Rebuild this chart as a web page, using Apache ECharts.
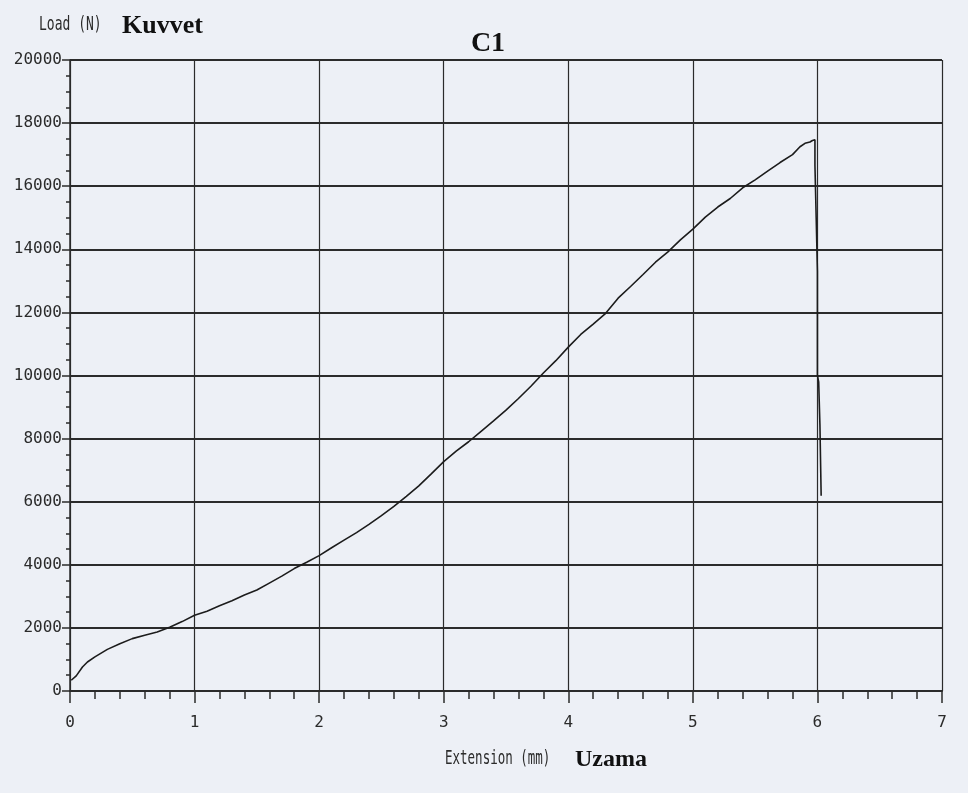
<!DOCTYPE html>
<html>
<head>
<meta charset="utf-8">
<title>C1 - Load vs Extension</title>
<script src="https://cdn.jsdelivr.net/npm/echarts@6/dist/echarts.min.js"></script>
<style>
  html, body { margin: 0; padding: 0; background: #edf0f6; }
  #chart { width: 968px; height: 793px; }
</style>
</head>
<body>
<div id="chart"></div>
<script>
// Tensile test record of specimen C1: extension (mm) against load (N)
const extension = [
  0.01, 0.05, 0.10, 0.14, 0.20, 0.30, 0.40, 0.50, 0.60, 0.70, 0.80, 0.90,
  1.00, 1.10, 1.20, 1.30, 1.40, 1.50, 1.60, 1.70, 1.80, 1.90,
  2.00, 2.10, 2.20, 2.30, 2.40, 2.50, 2.60, 2.70, 2.80, 2.90,
  3.00, 3.10, 3.20, 3.30, 3.40, 3.50, 3.60, 3.70, 3.80, 3.90,
  4.00, 4.10, 4.20, 4.30, 4.40, 4.50, 4.60, 4.70, 4.80, 4.90,
  5.00, 5.10, 5.20, 5.30, 5.40, 5.50, 5.60, 5.70, 5.80, 5.86, 5.90, 5.94, 5.96, 5.98,
  5.98, 5.99, 6.00, 6.00, 6.01, 6.02, 6.03
];
const load = [
  340, 480, 760, 920, 1080, 1320, 1500, 1660, 1770, 1870, 2020, 2200,
  2400, 2530, 2700, 2860, 3040, 3200, 3420, 3640, 3880, 4080,
  4290, 4540, 4780, 5020, 5280, 5560, 5850, 6170, 6500, 6880,
  7270, 7600, 7900, 8230, 8560, 8900, 9270, 9660, 10080, 10470,
  10900, 11300, 11630, 11970, 12450, 12820, 13200, 13590, 13920, 14300,
  14640, 15020, 15340, 15610, 15950, 16200, 16480, 16750, 17000, 17250, 17360, 17400, 17450, 17470,
  16670, 15000, 13300, 10000, 9800, 8450, 6190
];
const xTicks = [0, 1, 2, 3, 4, 5, 6, 7];
const yTicks = [0, 2000, 4000, 6000, 8000, 10000, 12000, 14000, 16000, 18000, 20000];

const ink = '#2b2b2b';
const monoFont = "'DejaVu Sans Mono', monospace";
const serifFont = "'Liberation Serif', 'Times New Roman', serif";

const chart = echarts.init(document.getElementById('chart'), null, { renderer: 'canvas' });

chart.setOption({
  backgroundColor: '#edf0f6',
  animation: false,
  grid: { left: 70, right: 26, top: 60, bottom: 102, containLabel: false },
  xAxis: {
    type: 'value',
    min: xTicks[0],
    max: xTicks[xTicks.length - 1],
    interval: 1,
    axisLine: { show: true, onZero: false, lineStyle: { color: ink, width: 2 } },
    axisTick: { show: true, inside: false, length: 12, lineStyle: { color: ink, width: 1.5 } },
    minorTick: { show: true, splitNumber: 5, length: 8, lineStyle: { color: ink, width: 1.5 } },
    splitLine: { show: true, lineStyle: { color: ink, width: 1.2 } },
    axisLabel: {
      margin: 24, color: ink, fontFamily: monoFont, fontSize: 16,
      formatter: v => String(v)
    }
  },
  yAxis: {
    type: 'value',
    min: yTicks[0],
    max: yTicks[yTicks.length - 1],
    interval: 2000,
    axisLine: { show: true, onZero: false, lineStyle: { color: ink, width: 1.5 } },
    axisTick: { show: true, inside: false, length: 8, lineStyle: { color: ink, width: 1.5 } },
    minorTick: { show: true, splitNumber: 4, length: 4, lineStyle: { color: ink, width: 1.5 } },
    splitLine: { show: true, lineStyle: { color: ink, width: 2 } },
    axisLabel: {
      margin: 8, color: ink, fontFamily: monoFont, fontSize: 16,
      formatter: v => String(v)
    }
  },
  series: [{
    type: 'line',
    data: extension.map((x, i) => [x, load[i]]),
    showSymbol: false,
    smooth: false,
    lineStyle: { color: '#1c1c1c', width: 1.6 },
    z: 5
  }],
  graphic: [
    {
      type: 'text', x: 39, y: 15, scaleY: 1.5,
      style: { text: 'Load (N)', font: '13px ' + monoFont, fill: ink, verticalAlign: 'top' }
    },
    {
      type: 'text', x: 122, y: 26,
      style: { text: 'Kuvvet', font: 'bold 26px ' + serifFont, fill: '#111', verticalAlign: 'middle' }
    },
    {
      type: 'text', x: 488, y: 44,
      style: { text: 'C1', font: 'bold 28px ' + serifFont, fill: '#111', align: 'center', verticalAlign: 'middle' }
    },
    {
      type: 'text', x: 445, y: 748, scaleY: 1.6,
      style: { text: 'Extension (mm)', font: '12.5px ' + monoFont, fill: ink, verticalAlign: 'top' }
    },
    {
      type: 'text', x: 575, y: 760,
      style: { text: 'Uzama', font: 'bold 24px ' + serifFont, fill: '#111', verticalAlign: 'middle' }
    }
  ]
});
</script>
</body>
</html>
